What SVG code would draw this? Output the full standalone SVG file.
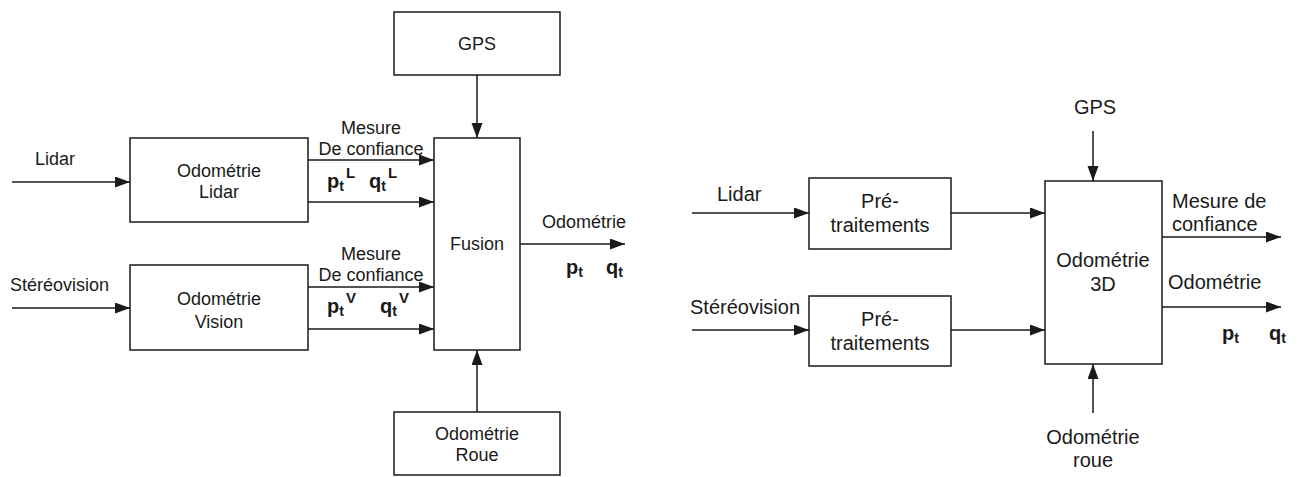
<svg xmlns="http://www.w3.org/2000/svg" width="1299" height="477" viewBox="0 0 1299 477">
<style>
.box{fill:#fff;stroke:#1a1a1a;stroke-width:1.5}
.ln{fill:none;stroke:#1a1a1a;stroke-width:1.5;marker-end:url(#ah)}
text{font-family:"Liberation Sans",Arial,sans-serif;fill:#1a1a1a}
.l{font-size:18px}
.r{font-size:20px}
.b{font-weight:bold;font-size:20px}
.m{text-anchor:middle}
</style>
<defs>
<marker id="ah" markerUnits="userSpaceOnUse" markerWidth="16" markerHeight="12" refX="15" refY="5.5" orient="auto">
<path d="M0,0 L15,5.5 L0,11 z" fill="#1a1a1a"/>
</marker>
</defs>
<rect width="1299" height="477" fill="#fff"/>
<g id="connectors">
<line class="ln" x1="12" y1="182" x2="130" y2="182"/>
<line class="ln" x1="12" y1="308" x2="130" y2="308"/>
<line class="ln" x1="308" y1="160" x2="434" y2="160"/>
<line class="ln" x1="308" y1="202" x2="434" y2="202"/>
<line class="ln" x1="308" y1="287" x2="434" y2="287"/>
<line class="ln" x1="308" y1="329" x2="434" y2="329"/>
<line class="ln" x1="477" y1="75" x2="477" y2="138"/>
<line class="ln" x1="477" y1="412" x2="477" y2="350"/>
<line class="ln" x1="520" y1="244" x2="625" y2="244"/>
<line class="ln" x1="692" y1="213" x2="809" y2="213"/>
<line class="ln" x1="692" y1="330" x2="809" y2="330"/>
<line class="ln" x1="951" y1="213" x2="1045" y2="213"/>
<line class="ln" x1="951" y1="330" x2="1045" y2="330"/>
<line class="ln" x1="1093" y1="131" x2="1093" y2="181"/>
<line class="ln" x1="1093" y1="413" x2="1093" y2="364"/>
<line class="ln" x1="1162" y1="237" x2="1281" y2="237"/>
<line class="ln" x1="1162" y1="307" x2="1281" y2="307"/>
</g>
<g id="labels-left">
<text class="l" x="35" y="165">Lidar</text>
<text class="l" x="10" y="291">Stéréovision</text>
<text class="l m" x="371" y="134">Mesure</text>
<text class="l m" x="371" y="155">De confiance</text>
<text class="b" x="327" y="188">p<tspan font-size="14" dy="3">t</tspan><tspan font-size="15" dx="2" dy="-13">L</tspan></text>
<text class="b" x="369" y="188">q<tspan font-size="14" dy="3">t</tspan><tspan font-size="15" dx="2" dy="-13">L</tspan></text>
<text class="l m" x="371" y="260">Mesure</text>
<text class="l m" x="371" y="281">De confiance</text>
<text class="b" x="327" y="313">p<tspan font-size="14" dy="3">t</tspan><tspan font-size="15" dx="2" dy="-13">V</tspan></text>
<text class="b" x="380" y="313">q<tspan font-size="14" dy="3">t</tspan><tspan font-size="15" dx="2" dy="-13">V</tspan></text>
<text class="l" x="542" y="228">Odométrie</text>
<text class="b" x="566" y="274">p<tspan font-size="14" dy="3">t</tspan></text>
<text class="b" x="606" y="274">q<tspan font-size="14" dy="3">t</tspan></text>
</g>
<g id="n-gps">
<rect class="box" x="394" y="12" width="166" height="63"/>
<text class="l m" x="477" y="50">GPS</text>
</g>
<g id="n-odo-lidar">
<rect class="box" x="130" y="138" width="178" height="84"/>
<text class="l m" x="219" y="177">Odométrie</text>
<text class="l m" x="219" y="198">Lidar</text>
</g>
<g id="n-odo-vision">
<rect class="box" x="130" y="265" width="178" height="85"/>
<text class="l m" x="219" y="305">Odométrie</text>
<text class="l m" x="219" y="328">Vision</text>
</g>
<g id="n-fusion">
<rect class="box" x="434" y="138" width="86" height="212"/>
<text class="l m" x="477" y="250">Fusion</text>
</g>
<g id="n-odo-roue">
<rect class="box" x="394" y="412" width="166" height="63"/>
<text class="l m" x="477" y="440">Odométrie</text>
<text class="l m" x="477" y="461">Roue</text>
</g>
<g id="labels-right">
<text class="r" x="717" y="201">Lidar</text>
<text class="r" x="690" y="314">Stéréovision</text>
<text class="r m" x="1095" y="114">GPS</text>
<text class="r m" x="1093" y="444">Odométrie</text>
<text class="r m" x="1093" y="467">roue</text>
<text class="r" x="1172" y="208">Mesure de</text>
<text class="r" x="1172" y="231">confiance</text>
<text class="r" x="1168" y="289">Odométrie</text>
<text class="b" x="1222" y="340">p<tspan font-size="14" dy="3">t</tspan></text>
<text class="b" x="1269" y="340">q<tspan font-size="14" dy="3">t</tspan></text>
</g>
<g id="n-pre1">
<rect class="box" x="809" y="178" width="142" height="71"/>
<text class="r m" x="880" y="208">Pré-</text>
<text class="r m" x="880" y="232">traitements</text>
</g>
<g id="n-pre2">
<rect class="box" x="809" y="296" width="142" height="70"/>
<text class="r m" x="880" y="326">Pré-</text>
<text class="r m" x="880" y="350">traitements</text>
</g>
<g id="n-odo3d">
<rect class="box" x="1045" y="181" width="117" height="183"/>
<text class="r m" x="1103" y="267">Odométrie</text>
<text class="r m" x="1103" y="291">3D</text>
</g>
</svg>
